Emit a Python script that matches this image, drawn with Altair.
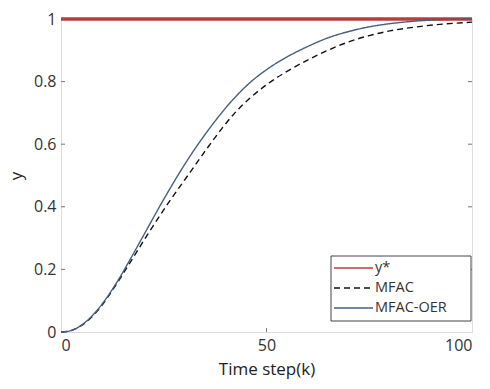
import altair as alt
import pandas as pd

# MFAC-OER (solid)
k_oer = [0, 2, 5, 8.7, 13.5, 17, 20.4, 25, 31.4, 36, 41.8, 46, 50, 55.7, 60, 65, 70, 75, 80, 87, 93, 100]
y_oer = [0, 0.003, 0.022, 0.068, 0.157, 0.236, 0.316, 0.424, 0.562, 0.648, 0.742, 0.797, 0.838, 0.884, 0.912, 0.94, 0.96, 0.975, 0.985, 0.994, 0.998, 1.0]
# MFAC (dashed)
k_mfac = [0, 2, 5, 8.7, 13.5, 17, 21, 26, 31.4, 36, 42.3, 50, 55.7, 62, 69.8, 75, 80, 86, 91.5, 100]
y_mfac = [0, 0.003, 0.021, 0.065, 0.153, 0.226, 0.31, 0.41, 0.51, 0.595, 0.70, 0.79, 0.838, 0.882, 0.926, 0.947, 0.962, 0.974, 0.982, 0.99]
# reference y*
k_ref = [0, 100]
y_ref = [1, 1]

series_names = ["y*", "MFAC", "MFAC-OER"]
series_colors = ["#bf3b3b", "#111111", "#4a5f80"]
series_dash = [[1, 0], [6, 4], [1, 0]]

x_ticks = [0, 50, 100]
y_ticks = [0, 0.2, 0.4, 0.6, 0.8, 1]

rows = []
for k, y in zip(k_ref, y_ref):
    rows.append({"k": k, "y": y, "series": "y*"})
for k, y in zip(k_mfac, y_mfac):
    rows.append({"k": k, "y": y, "series": "MFAC"})
for k, y in zip(k_oer, y_oer):
    rows.append({"k": k, "y": y, "series": "MFAC-OER"})
df = pd.DataFrame(rows)

W, H = 411, 313
FONT = "Open Sans"

xs = alt.Scale(domain=[0, 100], nice=False, zero=False)
ys = alt.Scale(domain=[0, 1], nice=False)

color = alt.Color("series:N", scale=alt.Scale(domain=series_names, range=series_colors), legend=None)
dash = alt.StrokeDash("series:N", scale=alt.Scale(domain=series_names, range=series_dash), legend=None)

x_enc = alt.X("k:Q", scale=xs, axis=alt.Axis(values=x_ticks, title="Time step(k)", titlePadding=8))
y_enc = alt.Y("y:Q", scale=ys, axis=alt.Axis(values=y_ticks, format="~g", title="y", titlePadding=8))

base = alt.Chart(df)
ref_line = base.transform_filter(alt.datum.series == "y*").mark_line(strokeWidth=3.5).encode(
    x=x_enc, y=y_enc, color=color, strokeDash=dash)
mfac_line = base.transform_filter(alt.datum.series == "MFAC").mark_line(strokeWidth=1.4, interpolate="monotone").encode(
    x=x_enc, y=y_enc, color=color, strokeDash=dash)
oer_line = base.transform_filter(alt.datum.series == "MFAC-OER").mark_line(strokeWidth=1.4, interpolate="monotone").encode(
    x=x_enc, y=y_enc, color=color, strokeDash=dash)

ydf = pd.DataFrame({"t": y_ticks[1:-1]})
xdf = pd.DataFrame({"t": x_ticks[1:-1]})
tick_col = "#777"
lt = alt.Chart(ydf).mark_rule(color=tick_col).encode(y=alt.Y("t:Q", scale=ys), x=alt.value(0), x2=alt.value(4))
rt = alt.Chart(ydf).mark_rule(color=tick_col).encode(y=alt.Y("t:Q", scale=ys), x=alt.value(W), x2=alt.value(W - 4))
bt = alt.Chart(xdf).mark_rule(color=tick_col).encode(x=alt.X("t:Q", scale=xs), y=alt.value(H), y2=alt.value(H - 4))

# hand-drawn legend box (layout only)
LX0, LX1, LY0, LY1 = 270, 410, 237, 302
leg_box = alt.Chart(pd.DataFrame({"a": [0]})).mark_rect(fill="white", stroke="#444", strokeWidth=1).encode(
    x=alt.value(LX0), x2=alt.value(LX1), y=alt.value(LY0), y2=alt.value(LY1))
leg_layers = [leg_box]
for i, (name, col, dsh) in enumerate(zip(series_names, series_colors, series_dash)):
    yy = 249 + 20 * i
    one = pd.DataFrame({"series": [name]})
    leg_layers.append(alt.Chart(one).mark_rule(color=col, strokeWidth=1.3, strokeDash=dsh).encode(
        x=alt.value(273), x2=alt.value(312), y=alt.value(yy)))
    leg_layers.append(alt.Chart(one).mark_text(align="left", baseline="middle", font=FONT, fontSize=14.5,
                                               color="#333").encode(
        x=alt.value(314), y=alt.value(yy), text="series:N"))

chart = alt.layer(lt, rt, bt, ref_line, mfac_line, oer_line, *leg_layers).properties(
    width=W, height=H,
    autosize=alt.AutoSizeParams(type="none"),
    padding={"left": 53, "top": 11, "right": 10, "bottom": 49},
).configure_view(stroke="#888", strokeWidth=1.2).configure(background="white").configure_axis(
    grid=False, tickSize=0, domain=False, labelFont=FONT, titleFont=FONT,
    labelFontSize=16, titleFontSize=17, titleFontWeight="normal",
    labelColor="#333", titleColor="#222", labelPadding=5,
)

chart.save("out.html", embed_options={"renderer": "svg", "actions": False})
